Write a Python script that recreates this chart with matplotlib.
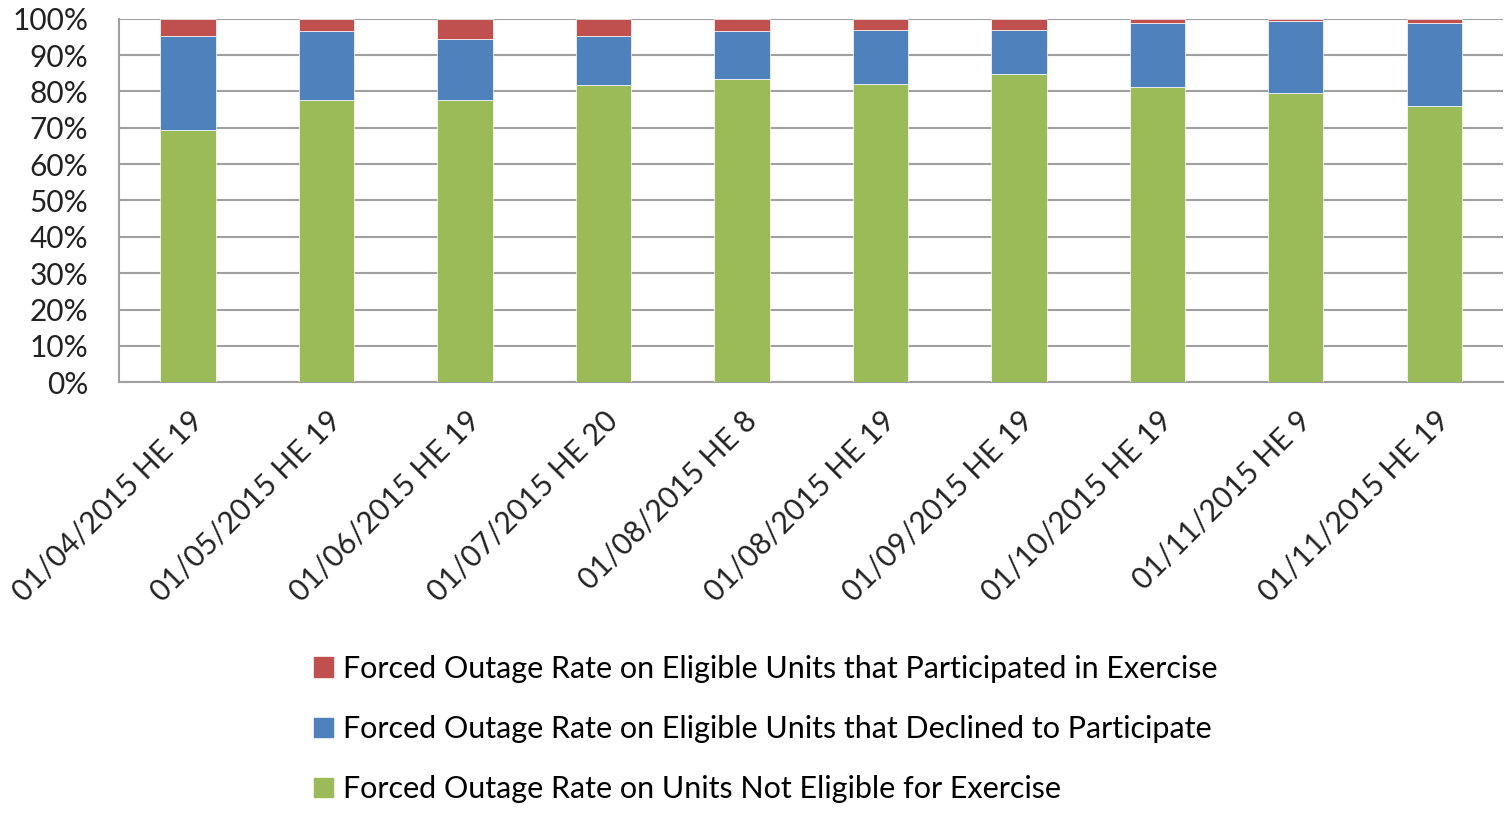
import numpy as np
import matplotlib.pyplot as plt
from matplotlib.patches import Patch
from matplotlib.ticker import PercentFormatter

# data (percent of total)
dates = ["01/04/2015 HE 19", "01/05/2015 HE 19", "01/06/2015 HE 19",
         "01/07/2015 HE 20", "01/08/2015 HE 8", "01/08/2015 HE 19",
         "01/09/2015 HE 19", "01/10/2015 HE 19", "01/11/2015 HE 9",
         "01/11/2015 HE 19"]
not_eligible = [69.5, 77.7, 77.7, 81.7, 83.4, 82.0, 84.8, 81.2, 79.7, 76.1]
declined = [25.7, 18.8, 16.7, 13.5, 13.1, 15.0, 12.2, 17.6, 19.7, 22.7]
participated = [4.8, 3.5, 5.6, 4.8, 3.5, 3.0, 3.0, 1.2, 0.6, 1.2]

labels = ["Forced Outage Rate on Eligible Units that Participated in Exercise",
          "Forced Outage Rate on Eligible Units that Declined to Participate",
          "Forced Outage Rate on Units Not Eligible for Exercise"]
colors = ["#C0504D", "#4F81BD", "#9BBB59"]

plt.rcParams.update({"font.family": "Lato", "font.size": 21.5})

fig = plt.figure(figsize=(15.05, 8.15), dpi=100)
ax = fig.add_axes([0.079, 0.531, 0.920, 0.446])

x = np.arange(len(dates))
w = 0.4
ax.bar(x, not_eligible, w, color=colors[2], edgecolor="white", lw=0.5, zorder=3)
ax.bar(x, declined, w, bottom=not_eligible, color=colors[1],
       edgecolor="white", lw=0.5, zorder=3)
bottom2 = np.array(not_eligible) + np.array(declined)
ax.bar(x, participated, w, bottom=bottom2, color=colors[0],
       edgecolor="white", lw=0.5, zorder=3)

ax.set_xlim(-0.5, len(dates) - 0.5)
ax.set_ylim(0, 100)
ax.set_yticks(np.arange(0, 101, 10))
ax.yaxis.set_major_formatter(PercentFormatter(decimals=0))
ax.grid(axis="y", color="#A0A0A0", lw=1.5, zorder=0)
ax.tick_params(axis="y", length=0, pad=22, colors="#222222")
ax.tick_params(axis="x", length=0, pad=4, colors="#222222")
ax.set_xticks(x)
ax.set_xticklabels(dates, rotation=45, ha="right", rotation_mode="anchor")
for tick in ax.get_xticklabels():
    tick.set_y(-0.05)
    tick.set_x(0)
for s in ["top", "right"]:
    ax.spines[s].set_visible(False)
for s in ["left", "bottom"]:
    ax.spines[s].set_color("#A0A0A0")
    ax.spines[s].set_linewidth(1.5)

handles = [Patch(color=c) for c in colors]
fig.legend(handles, labels, loc="center", bbox_to_anchor=(0.509, 0.1055),
           frameon=False, fontsize=22, handlelength=0.6, handleheight=0.6,
           handletextpad=0.35, labelspacing=1.05)

fig.savefig("out.png", dpi=100)
